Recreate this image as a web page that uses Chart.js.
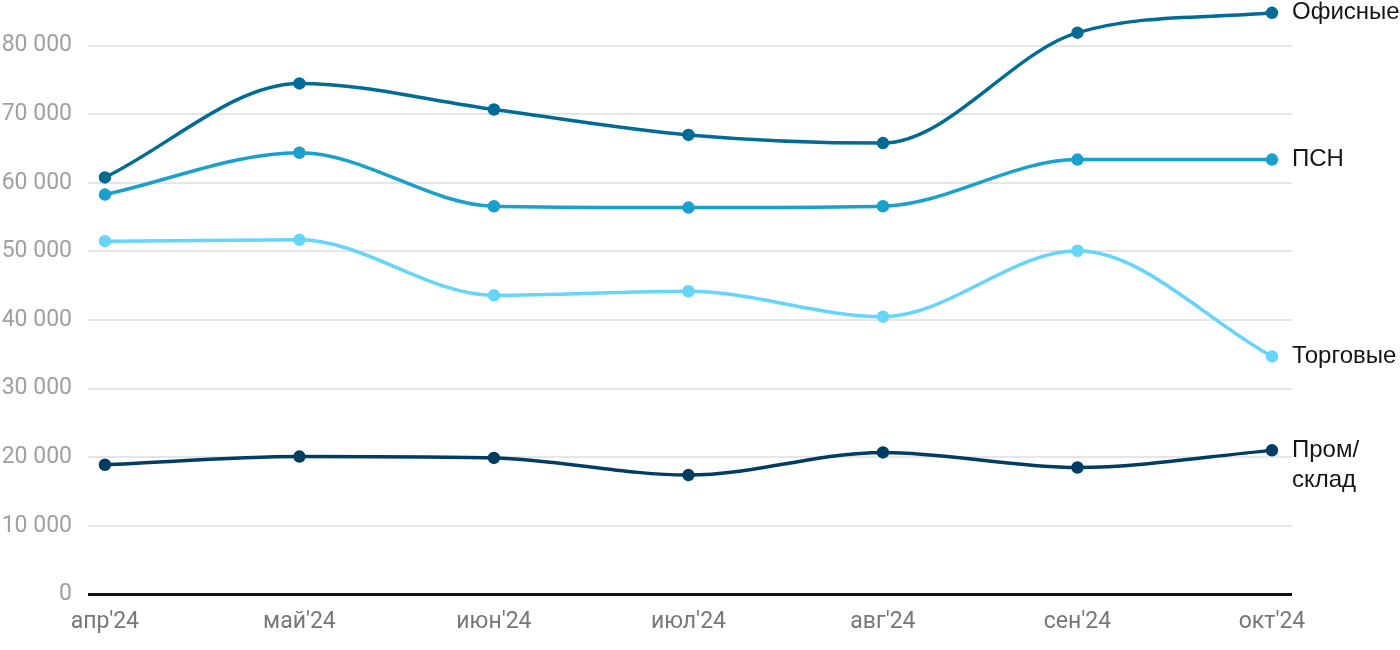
<!DOCTYPE html>
<html><head><meta charset="utf-8">
<script src="https://cdn.jsdelivr.net/npm/chart.js@4.4.1/dist/chart.umd.min.js"></script>
<style>html,body{margin:0;padding:0;background:#fff}#wrap{width:1400px;height:650px}</style>
</head><body><div id="wrap"><canvas id="c" width="1400" height="650"></canvas></div>
<script>
const categories = ["апр'24","май'24","июн'24","июл'24","авг'24","сен'24","окт'24"];
const seriesNames = ["Офисные","ПСН","Торговые","Пром/\nсклад"];
const office = [60800, 74500, 70700, 67000, 65800, 81900, 84800];
const psn = [58300, 64400, 56600, 56400, 56600, 63400, 63400];
const retail = [51500, 51700, 43600, 44200, 40500, 50100, 34700];
const industrial = [18900, 20100, 19900, 17400, 20700, 18500, 21000];
const yTicks = [0, 10000, 20000, 30000, 40000, 50000, 60000, 70000, 80000];
const colors = ["#006b94", "#1aa0cc", "#66d5fb", "#003d63"];
const values = [office, psn, retail, industrial];

const endLabels = {
  id: 'endLabels',
  afterDatasetsDraw(chart) {
    const ctx = chart.ctx;
    ctx.save();
    ctx.font = '24px "Liberation Sans", Arial, sans-serif';
    ctx.fillStyle = '#151515';
    ctx.textBaseline = 'middle';
    ctx.textAlign = 'left';
    chart.data.datasets.forEach((ds, i) => {
      const meta = chart.getDatasetMeta(i);
      const p = meta.data[meta.data.length - 1];
      const lines = ds.label.split('\n');
      lines.forEach((l, k) => ctx.fillText(l, p.x + 20, p.y + k * 30));
    });
    ctx.restore();
  }
};

new Chart(document.getElementById('c'), {
  type: 'line',
  data: {
    datasets: values.map((v, i) => ({
      label: seriesNames[i],
      data: v.map((y, x) => ({x, y})),
      borderColor: colors[i],
      backgroundColor: colors[i],
      borderWidth: 3.5,
      pointRadius: 4.5,
      pointHoverRadius: 4.5,
      tension: 0.4,
      cubicInterpolationMode: 'monotone',
      fill: false,
      clip: 10
    }))
  },
  options: {
    responsive: false,
    animation: false,
    layout: {padding: {top: 4, right: 108, left: 0, bottom: 0}},
    plugins: {legend: {display: false}, tooltip: {enabled: false}},
    scales: {
      x: {
        type: 'linear',
        min: -0.087,
        max: 6.103,
        afterBuildTicks: (s) => { s.ticks = categories.map((c, i) => ({value: i})); },
        grid: {display: false, drawTicks: false},
        border: {display: false},
        ticks: {
          callback: (v) => categories[v],
          color: '#777',
          font: {family: 'Roboto', size: 23},
          padding: 14,
          maxRotation: 0,
          autoSkip: false
        }
      },
      y: {
        min: 0,
        max: 85500,
        afterBuildTicks: (s) => { s.ticks = yTicks.map(v => ({value: v})); },
        afterFit: (s) => { s.width = 88; s.paddingTop = 0; s.paddingBottom = 0; },
        grid: {
          color: (c) => c.tick && c.tick.value === 0 ? '#111' : '#e6e6e6',
          lineWidth: (c) => c.tick && c.tick.value === 0 ? 3 : 2,
          drawTicks: false
        },
        border: {display: false},
        ticks: {
          callback: (v) => v.toLocaleString('ru-RU').replace(/\s/g, ' '),
          color: '#a0a0a0',
          font: {family: 'Roboto', size: 23},
          padding: 16
        }
      }
    }
  },
  plugins: [endLabels]
});
</script></body></html>
